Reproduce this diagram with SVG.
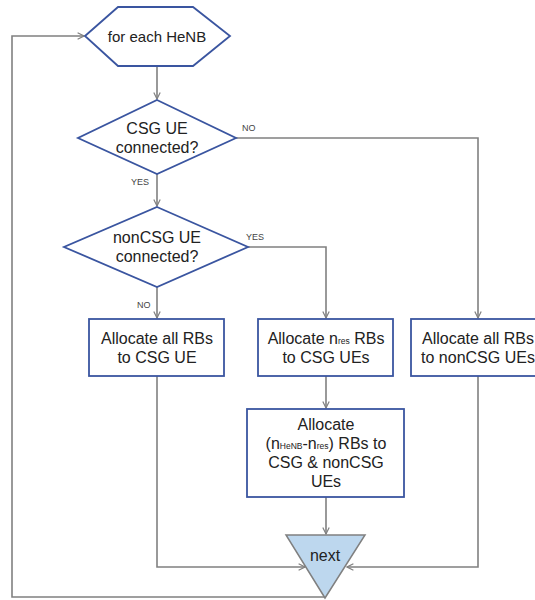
<svg xmlns="http://www.w3.org/2000/svg" width="535" height="600" viewBox="0 0 535 600">
<defs>
<marker id="arr" viewBox="0 0 10 10" refX="9" refY="5" markerWidth="8" markerHeight="8" orient="auto" markerUnits="userSpaceOnUse">
<path d="M1,1 L9,5 L1,9" fill="none" stroke="#808080" stroke-width="1.5"/>
</marker>
</defs>
<style>
.node{fill:#fff;stroke:#3a55a0;stroke-width:1.8}
.tri{fill:#bdd7ee;stroke:#808080;stroke-width:1.5}
.t{font-family:"Liberation Sans",Arial,sans-serif;font-size:16px;fill:#222;text-anchor:middle}
.lbl{font-family:"Liberation Sans",Arial,sans-serif;font-size:9px;fill:#444}
.c{fill:none;stroke:#808080;stroke-width:1.6}
.sub{font-size:8.5px}
</style>
<rect width="535" height="600" fill="#fff"/>
<g id="connectors">
<path class="c" d="M157,66 V99" marker-end="url(#arr)"/>
<path class="c" d="M157,174 V206" marker-end="url(#arr)"/>
<path class="c" d="M157,287 V318" marker-end="url(#arr)"/>
<path class="c" d="M236,138 H478 V318" marker-end="url(#arr)"/>
<path class="c" d="M248,247 H326 V318" marker-end="url(#arr)"/>
<path class="c" d="M326,376 V408" marker-end="url(#arr)"/>
<path class="c" d="M326,497 V534" marker-end="url(#arr)"/>
<path class="c" d="M157,376 V567 H305" marker-end="url(#arr)"/>
<path class="c" d="M478,376 V567 H347" marker-end="url(#arr)"/>
<path class="c" d="M325,597 H12 V36 H84" marker-end="url(#arr)"/>
<text class="lbl" x="242" y="131">NO</text>
<text class="lbl" x="131" y="185">YES</text>
<text class="lbl" x="246" y="240">YES</text>
<text class="lbl" x="137" y="308">NO</text>
</g>
<g id="start">
<polygon class="node" points="85,36 118,7 193,7 230,36 193,66 118,66"/>
<text class="t" x="157" y="42" style="font-size:15px">for each HeNB</text>
</g>
<g id="d1">
<polygon class="node" points="157,100 236,138 157,174 78,138"/>
<text class="t" x="157" y="134">CSG UE</text>
<text class="t" x="157" y="153">connected?</text>
</g>
<g id="d2">
<polygon class="node" points="157,207 248,247 157,287 64,247"/>
<text class="t" x="157" y="243">nonCSG UE</text>
<text class="t" x="157" y="262">connected?</text>
</g>
<g id="b1">
<rect class="node" x="89" y="319" width="135" height="57"/>
<text class="t" x="157" y="344">Allocate all RBs</text>
<text class="t" x="157" y="363">to CSG UE</text>
</g>
<g id="b2">
<rect class="node" x="258" y="319" width="135" height="57"/>
<text class="t" x="326" y="344">Allocate n<tspan class="sub">res</tspan> RBs</text>
<text class="t" x="326" y="363">to CSG UEs</text>
</g>
<g id="b3">
<rect class="node" x="411" y="319" width="134" height="57"/>
<text class="t" x="478" y="344">Allocate all RBs</text>
<text class="t" x="478" y="363">to nonCSG UEs</text>
</g>
<g id="b4">
<rect class="node" x="247" y="409" width="157" height="88"/>
<text class="t" x="326" y="430">Allocate</text>
<text class="t" x="326" y="449">(n<tspan class="sub">HeNB</tspan>-n<tspan class="sub">res</tspan>) RBs to</text>
<text class="t" x="326" y="468">CSG &amp; nonCSG</text>
<text class="t" x="326" y="487">UEs</text>
</g>
<g id="next">
<polygon class="tri" points="286,535 365,535 325,598"/>
<text class="t" x="325" y="561">next</text>
</g>
</svg>
